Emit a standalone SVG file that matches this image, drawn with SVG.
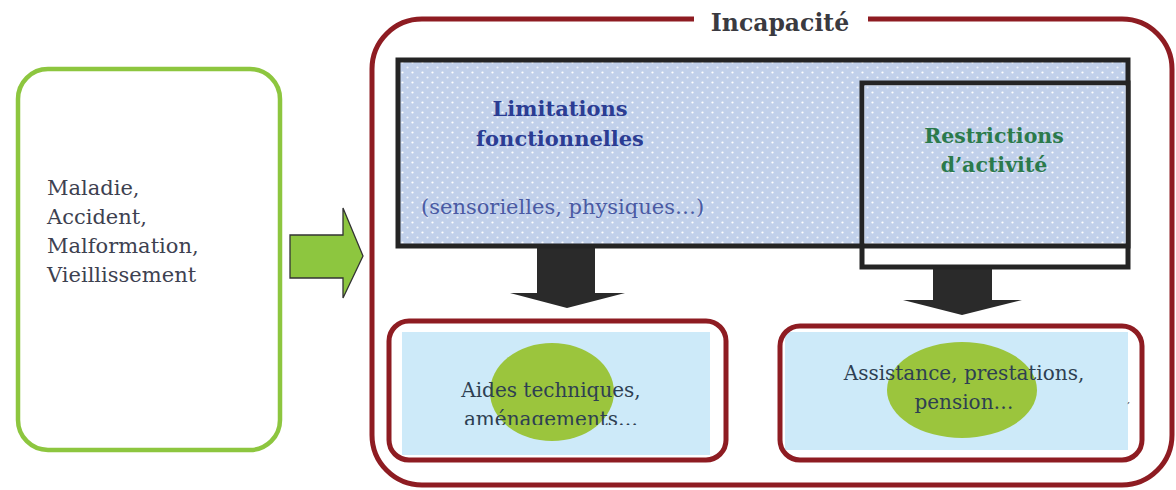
<svg xmlns="http://www.w3.org/2000/svg" width="1176" height="490" viewBox="0 0 1176 490">
<style>
.serif{font-family:"DejaVu Serif","Liberation Serif",serif}
.cause{font-size:21px;fill:#3d4150}
.title{font-size:23.5px;font-weight:bold;fill:#3a3a40}
.lim{font-size:21px;font-weight:bold;fill:#2b3c93}
.sub{font-size:21px;fill:#4a5aa3}
.res{font-size:20.5px;font-weight:bold;fill:#2b7a4b}
.out{font-size:20px;fill:#2e3f52}
.redbox{fill:none;stroke:#8e1c22;stroke-width:5}
.blk{fill:url(#dots);stroke:#242424;stroke-width:5}
.darrow{fill:#2a2a2a}
.ell{fill:#9bc53d}
.lb{fill:#cdeaf9}
</style>
<defs>
<pattern id="dots" width="10" height="10" patternUnits="userSpaceOnUse">
<rect width="10" height="10" fill="#c1d0ea"/>
<circle cx="2.5" cy="2.5" r="1.1" fill="#ffffff"/>
<circle cx="7.5" cy="7.5" r="1.1" fill="#eef3fb"/>
</pattern>
<clipPath id="clipA"><rect x="400" y="330" width="320" height="95"/></clipPath>
</defs>

<g id="cause">
<rect x="18" y="69" width="262" height="381" rx="30" fill="#ffffff" stroke="#8dc63f" stroke-width="4.5"/>
<text class="serif cause" x="47" y="195">Maladie,</text>
<text class="serif cause" x="47" y="224">Accident,</text>
<text class="serif cause" x="47" y="253">Malformation,</text>
<text class="serif cause" x="47" y="282">Vieillissement</text>
</g>

<g id="connectors">
<polygon points="290,235 343,235 343,208 363,256 343,298 343,278 290,278" fill="#8dc63f" stroke="#333" stroke-width="1.3"/>
<polygon class="darrow" points="537,246 595,246 595,293 625,293 567,308 510,293 537,293"/>
<polygon class="darrow" points="933,256 992,256 992,300 1022,300 962,315 903,300 933,300"/>
</g>

<g id="incapacite">
<rect class="redbox" x="372" y="19" width="800" height="466" rx="50"/>
<rect x="694" y="8" width="174" height="22" fill="#ffffff"/>
<text class="serif title" x="780" y="31" text-anchor="middle">Incapacité</text>
</g>

<g id="limitations">
<rect class="blk" x="398" y="60" width="730" height="186"/>
<text class="serif lim" x="560" y="116" text-anchor="middle">Limitations</text>
<text class="serif lim" x="560" y="146" text-anchor="middle">fonctionnelles</text>
<text class="serif sub" x="421" y="214">(sensorielles, physiques…)</text>
</g>

<g id="restrictions">
<rect x="862" y="83" width="266" height="184" fill="#ffffff" stroke="#242424" stroke-width="5"/>
<rect x="864.5" y="85.5" width="261" height="158" fill="url(#dots)"/>
<line x1="864" y1="246" x2="1126" y2="246" stroke="#242424" stroke-width="5"/>
<text class="serif res" x="994" y="143" text-anchor="middle">Restrictions</text>
<text class="serif res" x="994" y="172" text-anchor="middle">d’activité</text>
</g>

<g id="aides">
<rect class="lb" x="402" y="332" width="308" height="123"/>
<ellipse class="ell" cx="552" cy="392" rx="62" ry="49"/>
<rect class="redbox" x="389" y="321" width="337" height="139" rx="20"/>
<g clip-path="url(#clipA)">
<text class="serif out" x="551" y="397" text-anchor="middle">Aides techniques,</text>
<text class="serif out" x="551" y="426" text-anchor="middle">aménagements…</text>
</g>
</g>

<g id="assistance">
<rect class="lb" x="785" y="332" width="343" height="118"/>
<ellipse class="ell" cx="962" cy="390" rx="75" ry="48"/>
<rect class="redbox" x="780" y="326" width="362" height="134" rx="20"/>
<text class="serif out" x="964" y="380" text-anchor="middle">Assistance, prestations,</text>
<text class="serif out" x="964" y="409" text-anchor="middle">pension…</text>
<text class="serif" x="1127" y="403" font-size="10" fill="#2e3f52">,</text>
</g>
</svg>
